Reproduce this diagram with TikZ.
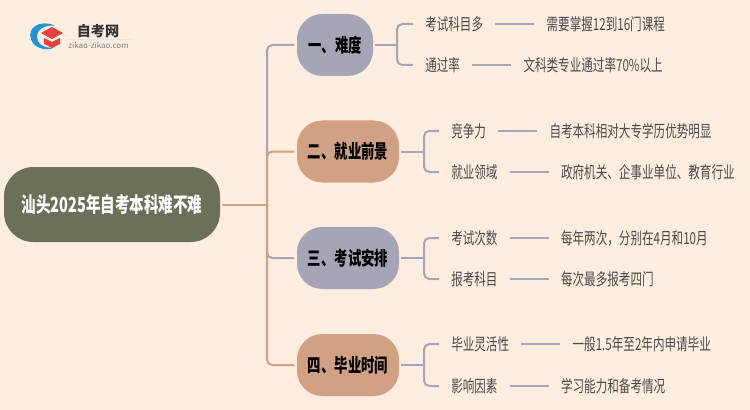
\documentclass[tikz,border=0pt]{standalone}
\usepackage{fontspec}
\setmainfont{Noto Sans CJK SC}[FakeStretch=0.7]
\newfontfamily\logofont{Noto Sans CJK SC}
\usepackage{xcolor}
\usetikzlibrary{positioning, calc}

\definecolor{pagebg}{HTML}{FFEEE0}
\definecolor{rootgreen}{HTML}{6B7159}
\definecolor{topicgray}{HTML}{A5A5B8}
\definecolor{topicbrown}{HTML}{D2A184}
\definecolor{inktext}{HTML}{4A4A4A}
\definecolor{logoblue}{HTML}{1E95D6}
\definecolor{logored}{HTML}{E8403A}

\tikzset{
    rootnode/.style={fill=rootgreen, rounded corners=22pt, minimum width=162pt, minimum height=56.25pt,
        text=white, font=\fontsize{15.6}{18}\selectfont\bfseries, inner sep=0pt},
    topic/.style={rounded corners=19pt, minimum height=46.5pt, inner sep=0pt,
        text=black, font=\fontsize{14.3}{16}\selectfont\bfseries},
    itemnode/.style={text=inktext, font=\fontsize{12.4}{14}\selectfont, inner xsep=9pt, inner ysep=0pt, anchor=west},
    grayline/.style={topicgray, line width=1.5pt, rounded corners=4pt},
    brownline/.style={topicbrown, line width=1.5pt, rounded corners=4pt}
}

\begin{document}
\begin{tikzpicture}[x=0.75pt, y=-0.75pt]
    % Background
    \fill[pagebg] (0,0) rectangle (750,410);
    \useasboundingbox (0,0) rectangle (750,410);

    % Logo
    \fill[logoblue] (55,25.5) .. controls (38,19) and (27,29) .. (31,39)
        .. controls (33,47) and (44,52) .. (55,47.5) .. controls (45,49) and (37,44) .. (37,37) .. controls (37,29) and (45,25) .. (55,25.5);
    \fill[logored] (41,33) -- (52,27) -- (63,33) -- (52,39) -- cycle;
    \fill[logored] (44,38) -- (52,42) -- (60,38) -- (60,44) -- (52,48) -- (44,44) -- cycle;
    \node[font=\logofont\fontsize{10.6}{13}\selectfont\bfseries, text=black!80, inner sep=0pt] (logotitle) at (98,31) {自考网};
    \node[font=\logofont\fontsize{6}{8}\selectfont, text=gray, inner sep=0pt] (logourl) at (98.5,45) {zikao-zikao.com};
    \draw[black!10, line width=0.4pt] (66,39) -- (131,39);

    % Root and topics
    \node[rootnode] (root) at (112,204.5) {汕头2025年自考本科难不难};
    \node[topic, fill=topicgray, minimum width=57pt] (diff) at (335,45) {一、难度};
    \node[topic, fill=topicbrown, minimum width=76.5pt] (job) at (348,151.5) {二、就业前景};
    \node[topic, fill=topicgray, minimum width=76.5pt] (plan) at (348,258) {三、考试安排};
    \node[topic, fill=topicbrown, minimum width=76.5pt] (grad) at (348,365) {四、毕业时间};

    % Trunk
    \coordinate (rootout) at (222,204.5);
    \coordinate (trunk) at (267,204.5);
    \draw[grayline] (trunk) |- ([xshift=-2pt]diff.west);
    \draw[grayline] (trunk) |- ([xshift=-2pt]plan.west);
    \draw[brownline] (rootout) -- (trunk);
    \draw[brownline] (trunk) |- ([xshift=-2pt]job.west);
    \draw[brownline] (trunk) |- ([xshift=-2pt]grad.west);

    % First topic
    \node[itemnode] (exama) at (413,24) {考试科目多};
    \node[itemnode, right=29.25pt of exama] (examb) {需要掌握12到16门课程};
    \node[itemnode] (passa) at (413,65) {通过率};
    \node[itemnode, right=29.25pt of passa] (passb) {文科类专业通过率70\%以上};
    \coordinate (difffork) at (397,45);
    \draw[grayline] ([xshift=1pt]diff.east) -- (difffork);
    \draw[grayline] (difffork) |- (exama.west);
    \draw[grayline] (difffork) |- (passa.west);
    \draw[grayline] (exama) -- (examb);
    \draw[grayline] (passa) -- (passb);

    % Second topic
    \node[itemnode] (compa) at (439,131) {竞争力};
    \node[itemnode, right=29.25pt of compa] (compb) {自考本科相对大专学历优势明显};
    \node[itemnode] (fielda) at (439,172) {就业领域};
    \node[itemnode, right=29.25pt of fielda] (fieldb) {政府机关、企事业单位、教育行业};
    \coordinate (jobfork) at (424,151.5);
    \draw[grayline] ([xshift=1pt]job.east) -- (jobfork);
    \draw[grayline] (jobfork) |- (compa.west);
    \draw[grayline] (jobfork) |- (fielda.west);
    \draw[grayline] (compa) -- (compb);
    \draw[grayline] (fielda) -- (fieldb);

    % Third topic
    \node[itemnode] (timesa) at (439,238) {考试次数};
    \node[itemnode, right=29.25pt of timesa] (timesb) {每年两次，分别在4月和10月};
    \node[itemnode] (subja) at (439,279) {报考科目};
    \node[itemnode, right=29.25pt of subja] (subjb) {每次最多报考四门};
    \coordinate (planfork) at (424,258);
    \draw[grayline] ([xshift=1pt]plan.east) -- (planfork);
    \draw[grayline] (planfork) |- (timesa.west);
    \draw[grayline] (planfork) |- (subja.west);
    \draw[grayline] (timesa) -- (timesb);
    \draw[grayline] (subja) -- (subjb);

    % Fourth topic
    \node[itemnode] (flexa) at (439,344) {毕业灵活性};
    \node[itemnode, right=29.25pt of flexa] (flexb) {一般1.5年至2年内申请毕业};
    \node[itemnode] (causea) at (439,386) {影响因素};
    \node[itemnode, right=29.25pt of causea] (causeb) {学习能力和备考情况};
    \coordinate (gradfork) at (424,365);
    \draw[grayline] ([xshift=1pt]grad.east) -- (gradfork);
    \draw[grayline] (gradfork) |- (flexa.west);
    \draw[grayline] (gradfork) |- (causea.west);
    \draw[grayline] (flexa) -- (flexb);
    \draw[grayline] (causea) -- (causeb);
\end{tikzpicture}
\end{document}
